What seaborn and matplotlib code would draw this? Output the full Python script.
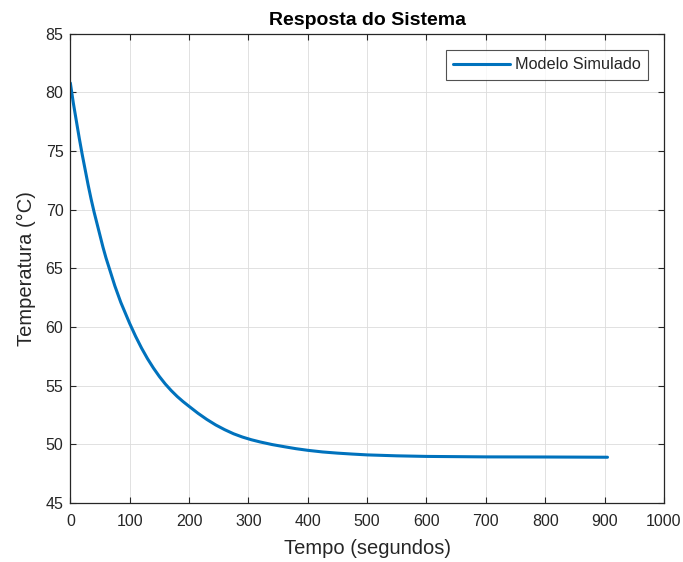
import matplotlib
matplotlib.use("Agg")
import matplotlib.pyplot as plt
import seaborn as sns
import pandas as pd

# valores
tempo = [0, 5, 10, 15, 20, 25, 30, 35, 40, 45, 50, 55, 60, 65, 70, 75, 80,
         85, 90, 95, 100, 110, 120, 130, 140, 150, 160, 170, 180, 190, 200,
         215, 230, 245, 260, 275, 290, 305, 320, 340, 360, 380, 400, 425,
         450, 475, 500, 550, 600, 650, 700, 800, 905]
temperatura = [80.8, 79.1, 77.6, 76.1, 74.7, 73.4, 72.1, 70.9, 69.8, 68.8,
               67.8, 66.8, 65.9, 65.1, 64.3, 63.5, 62.8, 62.1, 61.5, 60.9,
               60.3, 59.2, 58.2, 57.3, 56.5, 55.78, 55.14, 54.58, 54.08, 53.64,
               53.24, 52.65, 52.12, 51.65, 51.25, 50.9, 50.62, 50.39, 50.2,
               49.98, 49.8, 49.63, 49.49, 49.35, 49.25, 49.17, 49.1, 49.02,
               48.97, 48.95, 48.93, 48.92, 48.9]

x_ticks = list(range(0, 1001, 100))
y_ticks = list(range(45, 86, 5))

sns.set_theme(style="whitegrid")
plt.rcParams['font.family'] = ['Liberation Sans', 'DejaVu Sans']
plt.rcParams['axes.edgecolor'] = '#262626'
plt.rcParams['grid.color'] = '#dcdcdc'
plt.rcParams['grid.linewidth'] = 0.6

df = pd.DataFrame({'Tempo': tempo, 'Temperatura': temperatura})

fig = plt.figure(figsize=(6.83, 5.62), dpi=100)
ax = fig.add_axes([0.103, 0.105, 0.869, 0.835])

sns.lineplot(data=df, x='Tempo', y='Temperatura', ax=ax, color='#0072BD',
             linewidth=2.2, label='Modelo Simulado')

ax.set_xlim(0, 1000)
ax.set_ylim(45, 85)
ax.set_xticks(x_ticks)
ax.set_yticks(y_ticks)
ax.tick_params(direction='in', length=4, width=0.8, color='#262626',
               labelsize=11.5, labelcolor='#262626', top=True, right=True,
               bottom=True, left=True, pad=5)
ax.tick_params(axis='x', pad=8)
for s in ax.spines.values():
    s.set_linewidth(0.9)
    s.set_color('#262626')
ax.grid(True)

ax.set_title('Resposta do Sistema', fontsize=14, fontweight='bold', color='black', pad=6)
ax.set_xlabel('Tempo (segundos)', fontsize=14.5, color='#262626', labelpad=7)
ax.set_ylabel('Temperatura (°C)', fontsize=14.5, color='#262626', labelpad=7)

leg = ax.legend(loc='upper right', fontsize=11.7, frameon=True, fancybox=False,
                edgecolor='#262626', handlelength=3.5, borderaxespad=1.0,
                borderpad=0.45, handletextpad=0.3)
leg.get_frame().set_linewidth(0.8)

fig.savefig('out.png', dpi=100, facecolor='white')
